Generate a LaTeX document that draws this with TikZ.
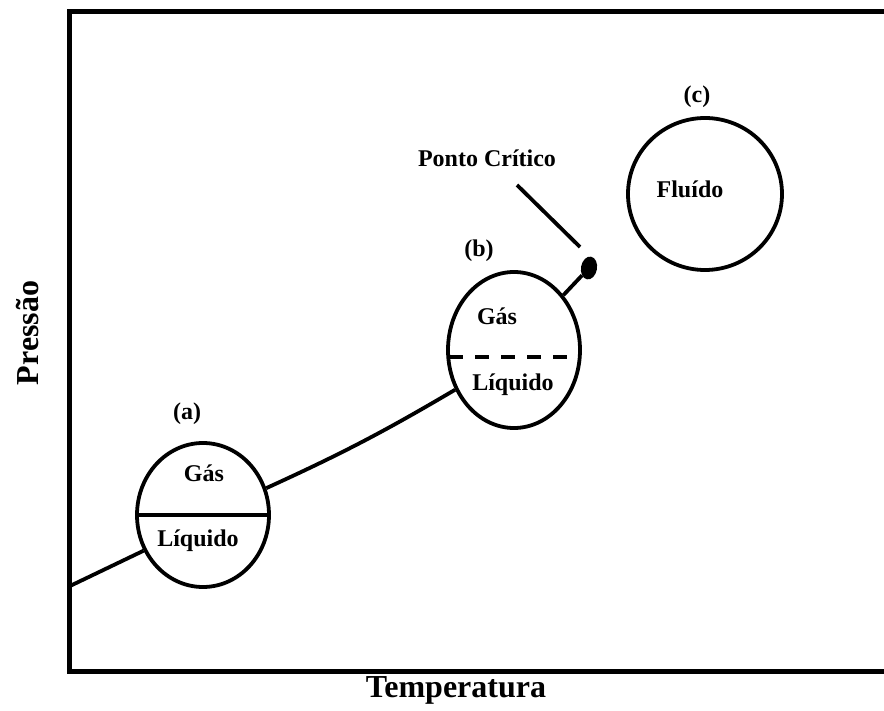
\documentclass[tikz,border=0pt]{standalone}
\usepackage{fontspec}
\setmainfont{Liberation Serif}
\usetikzlibrary{shapes.geometric}
\tikzset{
  phase/.style={ellipse, draw, line width=3.8pt, inner sep=0pt},
  lbl/.style={anchor=base, inner sep=0pt, font=\fontsize{24}{28}\selectfont\bfseries},
  axlbl/.style={anchor=base, inner sep=0pt, font=\fontsize{32}{36}\selectfont\bfseries},
  curve/.style={line width=3.8pt},
}
\begin{document}
\begin{tikzpicture}[x=1pt,y=-1pt]
\useasboundingbox (0,0) rectangle (884,711);
\clip (0,0) rectangle (884,711);
\fill[white] (0,0) rectangle (884,711);
% frame
\draw[line width=5pt] (69,12) rectangle (920,671);
% phases
\node[phase, minimum width=132pt, minimum height=144pt] (a) at (203,515) {};
\node[phase, minimum width=132pt, minimum height=156pt] (b) at (514,350) {};
\node[phase, minimum width=154pt, minimum height=152pt] (c) at (705,194) {};
\node[ellipse, fill=black, inner sep=0pt, minimum width=16pt, minimum height=23pt, rotate=-10] (dot) at (589,268) {};
% interfaces
\draw[curve] (a.west) -- (a.east);
\draw[curve, dash pattern=on 14pt off 12pt] (449,357) -- (579,357);
% coexistence curve
\coordinate (start) at (70,586);
\draw[curve] (start) -- (a.211);
\draw[curve] (a.23) to[bend right=3] (b.214);
\draw[curve] (b.48) -- (dot);
% pointer
\coordinate (p1) at (517,185);
\coordinate (p2) at (580,247);
\draw[curve] (p1) -- (p2);
% labels
\node[lbl] (la) at (187,419) {(a)};
\node[lbl] (ga) at (204,481) {Gás};
\node[lbl] (qa) at (198,546) {Líquido};
\node[lbl] (lb) at (479,257) {(b)};
\node[lbl] (gb) at (497,325) {Gás};
\node[lbl] (qb) at (513,391) {Líquido};
\node[lbl] (pc) at (487,167) {Ponto Crítico};
\node[lbl] (lc) at (697,103) {(c)};
\node[lbl] (fl) at (690,198) {Fluído};
\node[axlbl] (tx) at (456,697) {Temperatura};
\node[axlbl, rotate=90] (ty) at (38,333) {Pressão};
\end{tikzpicture}
\end{document}
